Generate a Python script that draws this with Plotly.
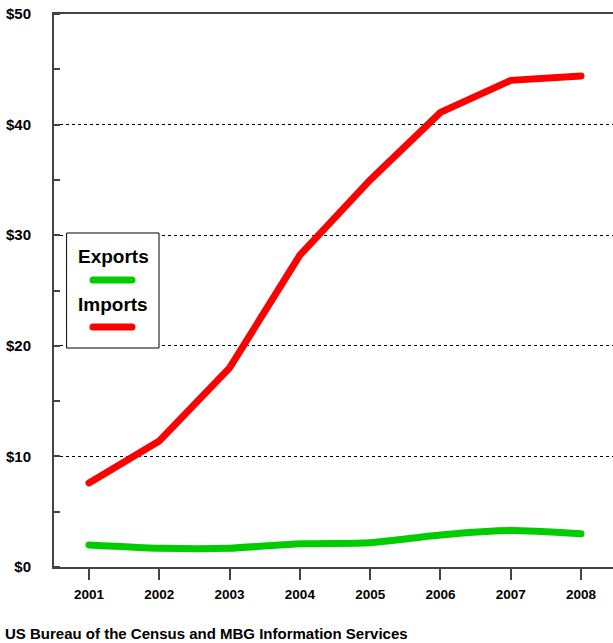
import plotly.graph_objects as go

years = [2001, 2002, 2003, 2004, 2005, 2006, 2007, 2008]
exports = [2.0, 1.7, 1.7, 2.1, 2.2, 2.9, 3.3, 3.0]
imports = [7.6, 11.4, 18.0, 28.2, 35.0, 41.1, 44.0, 44.4]
y_ticks = [0, 10, 20, 30, 40, 50]
y_labels = ["$0", "$10", "$20", "$30", "$40", "$50"]
source = "US Bureau of the Census and MBG Information Services"

W, H = 613, 643
L, T, B, R = 54, 14, 76, 0
PW, PH = W - L - R, H - T - B

def px(x):
    return (x - L) / PW

def py(y):
    return (H - B - y) / PH

FONT = "Liberation Sans, Arial, sans-serif"
GREEN = "#00CC00"
RED = "#FF0000"

fig = go.Figure()
fig.add_trace(go.Scatter(x=years, y=exports, mode="lines", name="Exports",
                         line=dict(color=GREEN, width=7, shape="spline", smoothing=0.6)))
fig.add_trace(go.Scatter(x=years, y=imports, mode="lines", name="Imports",
                         line=dict(color=RED, width=7)))

fig.update_layout(
    width=W, height=H,
    margin=dict(l=L, r=R, t=T, b=B),
    paper_bgcolor="white", plot_bgcolor="white",
    showlegend=False,
    font=dict(family=FONT, color="black"),
)
fig.update_xaxes(
    range=[2000.502, 2008.455], tickvals=years, ticktext=[str(y) for y in years],
    showgrid=False, zeroline=False,
    showline=True, linecolor="#444444", linewidth=2, mirror=True,
    ticks="outside", ticklen=11, tickwidth=1.5, tickcolor="#444444",
    ticklabelstandoff=3,
    tickfont=dict(size=13.5, weight="bold", family=FONT),
)
fig.update_yaxes(
    range=[0, 50], tickvals=y_ticks, ticktext=y_labels,
    showgrid=True, gridcolor="black", gridwidth=1, griddash="3px,3px",
    zeroline=False,
    showline=True, linecolor="#444444", linewidth=2, mirror=False,
    ticks="", ticklabelstandoff=18,
    tickfont=dict(size=15, weight="bold", family=FONT),
    minor=dict(dtick=5, ticks="inside", ticklen=6, tickcolor="#444444", tickwidth=1.5, showgrid=False),
)

# custom legend box
fig.add_shape(type="rect", xref="paper", yref="paper",
              x0=px(67), x1=px(159), y0=py(348), y1=py(233),
              line=dict(color="black", width=1), fillcolor="white", layer="above")
for name, color, ty, ly in [("Exports", GREEN, 256, 280), ("Imports", RED, 304, 327)]:
    fig.add_annotation(xref="paper", yref="paper", x=px(113), y=py(ty),
                       text=name, showarrow=False, xanchor="center", yanchor="middle",
                       font=dict(size=19, weight="bold", family=FONT, color="black"))
    fig.add_shape(type="line", xref="paper", yref="paper",
                  x0=px(93), x1=px(132), y0=py(ly), y1=py(ly),
                  line=dict(color=color, width=7), layer="above")

fig.add_annotation(xref="paper", yref="paper", x=px(3), y=py(634),
                   text=source, showarrow=False, xanchor="left", yanchor="middle",
                   font=dict(size=15, weight="bold", family=FONT, color="black"))

fig.write_html(
    "out.html",
    config={"displayModeBar": False},
    post_script=(
        "document.body.style.margin='0';document.body.style.overflow='hidden';"
        "document.querySelectorAll('.js-line, .shapelayer path').forEach(function(p){"
        "p.style.strokeLinecap='round';});"
    ),
)
